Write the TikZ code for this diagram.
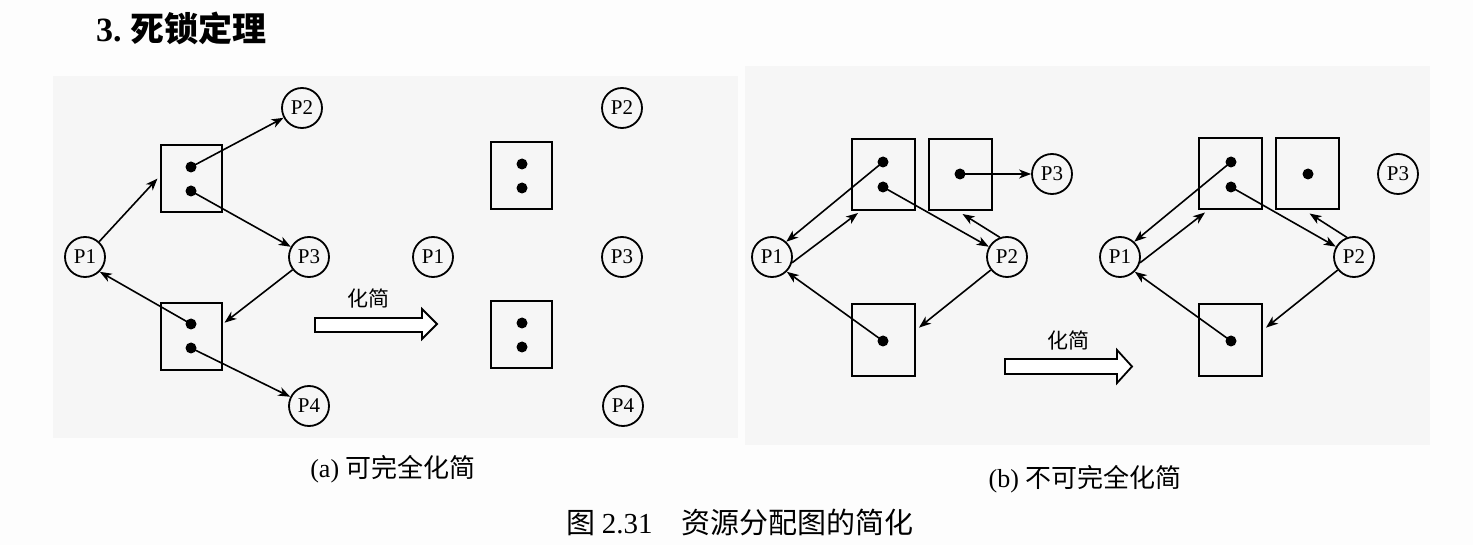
\documentclass[tikz,border=0pt]{standalone}
\usepackage{fontspec}
\setmainfont{Liberation Serif}
\newfontfamily\cjk{Noto Sans CJK SC}
\newfontfamily\cjkb{Noto Sans CJK SC Bold}
\usetikzlibrary{arrows.meta,calc}
\definecolor{panelbg}{HTML}{F6F6F6}
\definecolor{pagebg}{HTML}{FDFDFD}
\tikzset{
  proc/.style={circle,draw,line width=1.8pt,minimum size=40pt,inner sep=0pt,font=\fontsize{21}{21}\selectfont},
  res/.style={draw,rectangle,line width=2pt,minimum width=61pt,minimum height=67pt,inner sep=0pt},
  resb/.style={res,minimum width=63pt,minimum height=71pt},
  dot/.style={circle,fill=black,minimum size=11pt,inner sep=0pt},
  arr/.style={-{Stealth[length=12pt,width=9pt,inset=3.5pt]},line width=1.6pt},
  hollow/.style={draw,line width=1.8pt,fill=white},
  lbl/.style={font=\cjk\fontsize{21}{21}\selectfont,inner sep=0pt},
  captext/.style={font=\fontsize{26}{26}\selectfont,inner sep=0pt}
}
\begin{document}
\begin{tikzpicture}[x=1pt,y=-1pt]
\useasboundingbox (0,0) rectangle (1473,545);
\fill[pagebg] (0,0) rectangle (1473,545);
\fill[panelbg] (53,76) rectangle (738,438);
\fill[panelbg] (745,66) rectangle (1430,445);

% title
\node[inner sep=0pt,anchor=west] (title) at (96,28) {\fontsize{34}{34}\selectfont\bfseries 3.\ \cjkb 死锁定理};

% ---------- panel (a) left ----------
\node[proc] (aP1) at (85,257) {P1};
\node[proc] (aP2) at (302,108) {P2};
\node[proc] (aP3) at (309,257) {P3};
\node[proc] (aP4) at (309,406) {P4};
\node[res] (aR1) at (191,178.5) {};
\node[res] (aR2) at (191,336.5) {};
\node[dot] (aR1d1) at (191,167) {};
\node[dot] (aR1d2) at (191,191) {};
\node[dot] (aR2d1) at (191,324) {};
\node[dot] (aR2d2) at (191,348) {};
\draw[arr] (aP1) -- ($(aR1.west)+(-2,0)$);
\draw[arr] (aR1d1.center) -- (aP2);
\draw[arr] (aR1d2.center) -- (aP3);
\draw[arr] (aP3) -- ($(aR2.north east)!0.3!(aR2.south east)+(2,0)$);
\draw[arr] (aR2d1.center) -- (aP1.-45);
\draw[arr] (aR2d2.center) -- (aP4);

% simplify arrow (a)
\draw[hollow] (315,318) -- (422,318) -- (422,309) -- (437,324) -- (422,339) -- (422,332) -- (315,332) -- cycle;
\node[lbl] (aSl) at (368,298) {化简};

% ---------- panel (a) right ----------
\node[proc] (bP1) at (433,257) {P1};
\node[proc] (bP2) at (622,108) {P2};
\node[proc] (bP3) at (622,257) {P3};
\node[proc] (bP4) at (623,406) {P4};
\node[res] (bR1) at (521.5,175.5) {};
\node[res] (bR2) at (521.5,334.5) {};
\node[dot] (bR1d1) at (522,164) {};
\node[dot] (bR1d2) at (522,188) {};
\node[dot] (bR2d1) at (522,323) {};
\node[dot] (bR2d2) at (522,347) {};

\node[captext] (capa) at (393,469) {(a) \cjk 可完全化简};

% ---------- panel (b) left ----------
\node[proc] (cP1) at (772,257) {P1};
\node[proc] (cP2) at (1007,257) {P2};
\node[proc] (cP3) at (1052,174) {P3};
\node[resb] (cR1) at (883.5,174.5) {};
\node[resb] (cR2) at (960.5,174.5) {};
\node[resb] (cR3) at (883.5,340) {};
\node[dot] (cR1d1) at (883,162) {};
\node[dot] (cR1d2) at (883,187) {};
\node[dot] (cR2d) at (960,174) {};
\node[dot] (cR3d) at (883,341) {};
\draw[arr] (cR1d1.center) -- (cP1.47);
\draw[arr] (cP1.-16) -- ($(cR1.south west)+(7,2)$);
\draw[arr] (cR1d2.center) -- (cP2);
\draw[arr] (cP2.110) -- ($(cR2.south)+(2,3)$);
\draw[arr] (cP2) -- ($(cR3.north east)!0.33!(cR3.south east)+(3,0)$);
\draw[arr] (cR3d.center) -- (cP1.-45);
\draw[arr] (cR2d.center) -- (cP3);

% simplify arrow (b)
\draw[hollow] (1005,359) -- (1117,359) -- (1117,350) -- (1132,366.5) -- (1117,383) -- (1117,374) -- (1005,374) -- cycle;
\node[lbl] (bSl) at (1068,340) {化简};

% ---------- panel (b) right ----------
\node[proc] (dP1) at (1120,257) {P1};
\node[proc] (dP2) at (1354,257) {P2};
\node[proc] (dP3) at (1398,174) {P3};
\node[resb] (dR1) at (1230.5,174) {};
\node[resb] (dR2) at (1307.5,174) {};
\node[resb] (dR3) at (1230.5,340) {};
\node[dot] (dR1d1) at (1231,162) {};
\node[dot] (dR1d2) at (1231,187) {};
\node[dot] (dR2d) at (1308,174) {};
\node[dot] (dR3d) at (1231,341) {};
\draw[arr] (dR1d1.center) -- (dP1.47);
\draw[arr] (dP1.-16) -- ($(dR1.south west)+(7,2)$);
\draw[arr] (dR1d2.center) -- (dP2);
\draw[arr] (dP2.110) -- ($(dR2.south)+(2,3)$);
\draw[arr] (dP2) -- ($(dR3.north east)!0.33!(dR3.south east)+(3,0)$);
\draw[arr] (dR3d.center) -- (dP1.-45);

\node[captext] (capb) at (1085,479) {(b) \cjk 不可完全化简};

% figure caption
\node[captext,font=\fontsize{29}{29}\selectfont] (figcap) at (740,522) {\cjk 图\ \rmfamily 2.31\hspace{1em}\cjk 资源分配图的简化};
\end{tikzpicture}
\end{document}
